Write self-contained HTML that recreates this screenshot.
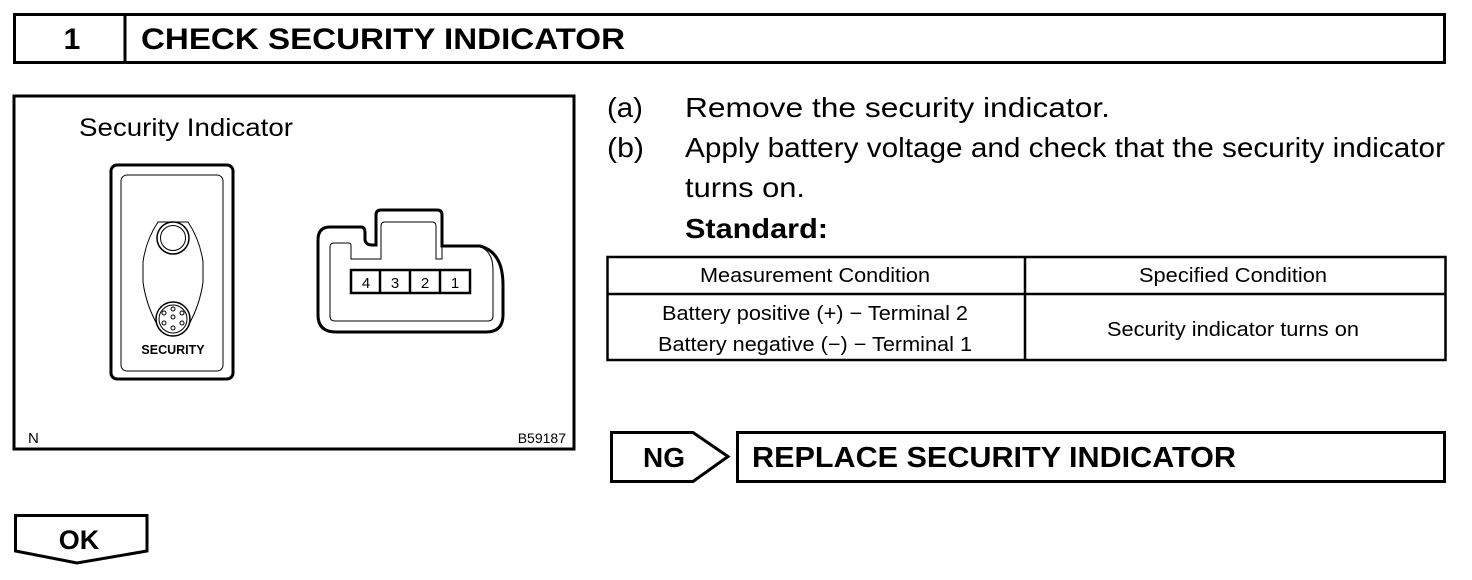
<!DOCTYPE html>
<html><head><meta charset="utf-8"><style>
html,body{margin:0;padding:0;background:#fff;}
svg{display:block;}
text{font-family:"Liberation Sans",Arial,sans-serif;fill:#000;}
</style></head><body>
<svg width="1472" height="580" viewBox="0 0 1472 580" xmlns="http://www.w3.org/2000/svg">
<!-- header -->
<rect x="14.5" y="14.5" width="1430" height="48" fill="none" stroke="#000" stroke-width="3"/>
<line x1="125" y1="14" x2="125" y2="63" stroke="#000" stroke-width="3"/>
<text x="72" y="49" font-size="30" font-weight="bold" text-anchor="middle">1</text>
<text x="141" y="49" font-size="30" font-weight="bold" textLength="484" lengthAdjust="spacingAndGlyphs">CHECK SECURITY INDICATOR</text>

<!-- figure -->
<rect x="14" y="96" width="560" height="353" fill="none" stroke="#000" stroke-width="3"/>
<text x="79" y="136" font-size="25" textLength="214" lengthAdjust="spacingAndGlyphs">Security Indicator</text>
<text x="28" y="443" font-size="15">N</text>
<text x="566" y="443" font-size="14" text-anchor="end">B59187</text>

<!-- switch -->
<rect x="111" y="165" width="122" height="214" rx="6" fill="none" stroke="#000" stroke-width="3"/>
<rect x="121" y="175" width="102" height="196" rx="6" fill="none" stroke="#000" stroke-width="1"/>
<path d="M158,222 Q146,240 143,262 L143,282 Q146,305 158,326 L188,326 Q200,305 203,282 L203,262 Q200,240 188,222 Z" fill="none" stroke="#000" stroke-width="1"/>
<circle cx="173" cy="238" r="16" fill="#fff" stroke="#000" stroke-width="1.5"/>
<circle cx="173" cy="238" r="12.5" fill="none" stroke="#000" stroke-width="1"/>
<circle cx="173" cy="319" r="17" fill="#fff" stroke="#000" stroke-width="1.5"/>
<circle cx="173" cy="319" r="14" fill="none" stroke="#000" stroke-width="1"/>
<g fill="none" stroke="#000" stroke-width="1">
<circle cx="173" cy="309" r="2"/><circle cx="164" cy="313" r="2"/><circle cx="182" cy="313" r="2"/>
<circle cx="173" cy="317" r="2"/><circle cx="164" cy="323" r="2"/><circle cx="182" cy="323" r="2"/>
<circle cx="173" cy="328" r="2"/>
</g>
<text x="173" y="354" font-size="12.5" font-weight="bold" text-anchor="middle">SECURITY</text>

<!-- connector -->
<path d="M330,227 L361,227 Q365,227 365,233 L365,240 Q366,245 372,245 L376,245 L376,215 Q376,210 381,210 L437,210 Q442,210 442,215 L442,246 L480,246 Q503,252 503,285 L503,315 Q503,332 486,332 L336,332 Q318,332 318,315 L318,240 Q318,227 330,227 Z" fill="none" stroke="#000" stroke-width="3"/>
<path d="M334,243 L349,243 Q351,243 351,246 L351,259 L381,259 L381,226 Q381,222 385,222 L432,222 Q436,222 436,226 L436,259 L442,259 L442,246 L478,246 Q493,250 493,270 L493,316 Q493,321 488,321 L335,321 Q330,321 330,316 L330,247 Q330,243 334,243 Z" fill="none" stroke="#000" stroke-width="1"/>
<rect x="351" y="270" width="119" height="23" fill="#fff" stroke="#000" stroke-width="2.5"/>
<line x1="380" y1="270" x2="380" y2="293" stroke="#000" stroke-width="2.5"/>
<line x1="410" y1="270" x2="410" y2="293" stroke="#000" stroke-width="2.5"/>
<line x1="440" y1="270" x2="440" y2="293" stroke="#000" stroke-width="2.5"/>
<g font-size="15" text-anchor="middle">
<text x="366" y="288">4</text><text x="395" y="288">3</text><text x="425" y="288">2</text><text x="455" y="288">1</text>
</g>

<!-- instructions -->
<g font-size="28">
<text x="607" y="117" textLength="36" lengthAdjust="spacingAndGlyphs">(a)</text><text x="685" y="117" textLength="425" lengthAdjust="spacingAndGlyphs">Remove the security indicator.</text>
<text x="607" y="157" textLength="37" lengthAdjust="spacingAndGlyphs">(b)</text><text x="685" y="157" textLength="760" lengthAdjust="spacingAndGlyphs">Apply battery voltage and check that the security indicator</text>
<text x="685" y="197" textLength="120" lengthAdjust="spacingAndGlyphs">turns on.</text>
<text x="685" y="238" font-weight="bold" textLength="143" lengthAdjust="spacingAndGlyphs">Standard:</text>
</g>

<!-- table -->
<rect x="607.5" y="257" width="838" height="103" fill="none" stroke="#000" stroke-width="2.5"/>
<line x1="607" y1="294" x2="1446" y2="294" stroke="#000" stroke-width="2.5"/>
<line x1="1025" y1="257" x2="1025" y2="360" stroke="#000" stroke-width="2.5"/>
<g font-size="20" text-anchor="middle">
<text x="815" y="282" textLength="230" lengthAdjust="spacingAndGlyphs">Measurement Condition</text>
<text x="1233" y="282" textLength="188" lengthAdjust="spacingAndGlyphs">Specified Condition</text>
<text x="815" y="320" textLength="306" lengthAdjust="spacingAndGlyphs">Battery positive (+) − Terminal 2</text>
<text x="815" y="351" textLength="314" lengthAdjust="spacingAndGlyphs">Battery negative (−) − Terminal 1</text>
<text x="1233" y="336" textLength="252" lengthAdjust="spacingAndGlyphs">Security indicator turns on</text>
</g>

<!-- NG -->
<path d="M611.5,432.5 L693,432.5 L728,456.5 L693,481.5 L611.5,481.5 Z" fill="none" stroke="#000" stroke-width="3"/>
<text x="664" y="467" font-size="28" font-weight="bold" text-anchor="middle">NG</text>
<rect x="737.5" y="432.5" width="707" height="49" fill="none" stroke="#000" stroke-width="3"/>
<text x="752" y="467" font-size="29" font-weight="bold" textLength="484" lengthAdjust="spacingAndGlyphs">REPLACE SECURITY INDICATOR</text>

<!-- OK -->
<path d="M15.5,515.5 L147,515.5 L147,551 L77,563 L15.5,551 Z" fill="none" stroke="#000" stroke-width="3"/>
<text x="79" y="549" font-size="27" font-weight="bold" text-anchor="middle">OK</text>
</svg>
</body></html>
